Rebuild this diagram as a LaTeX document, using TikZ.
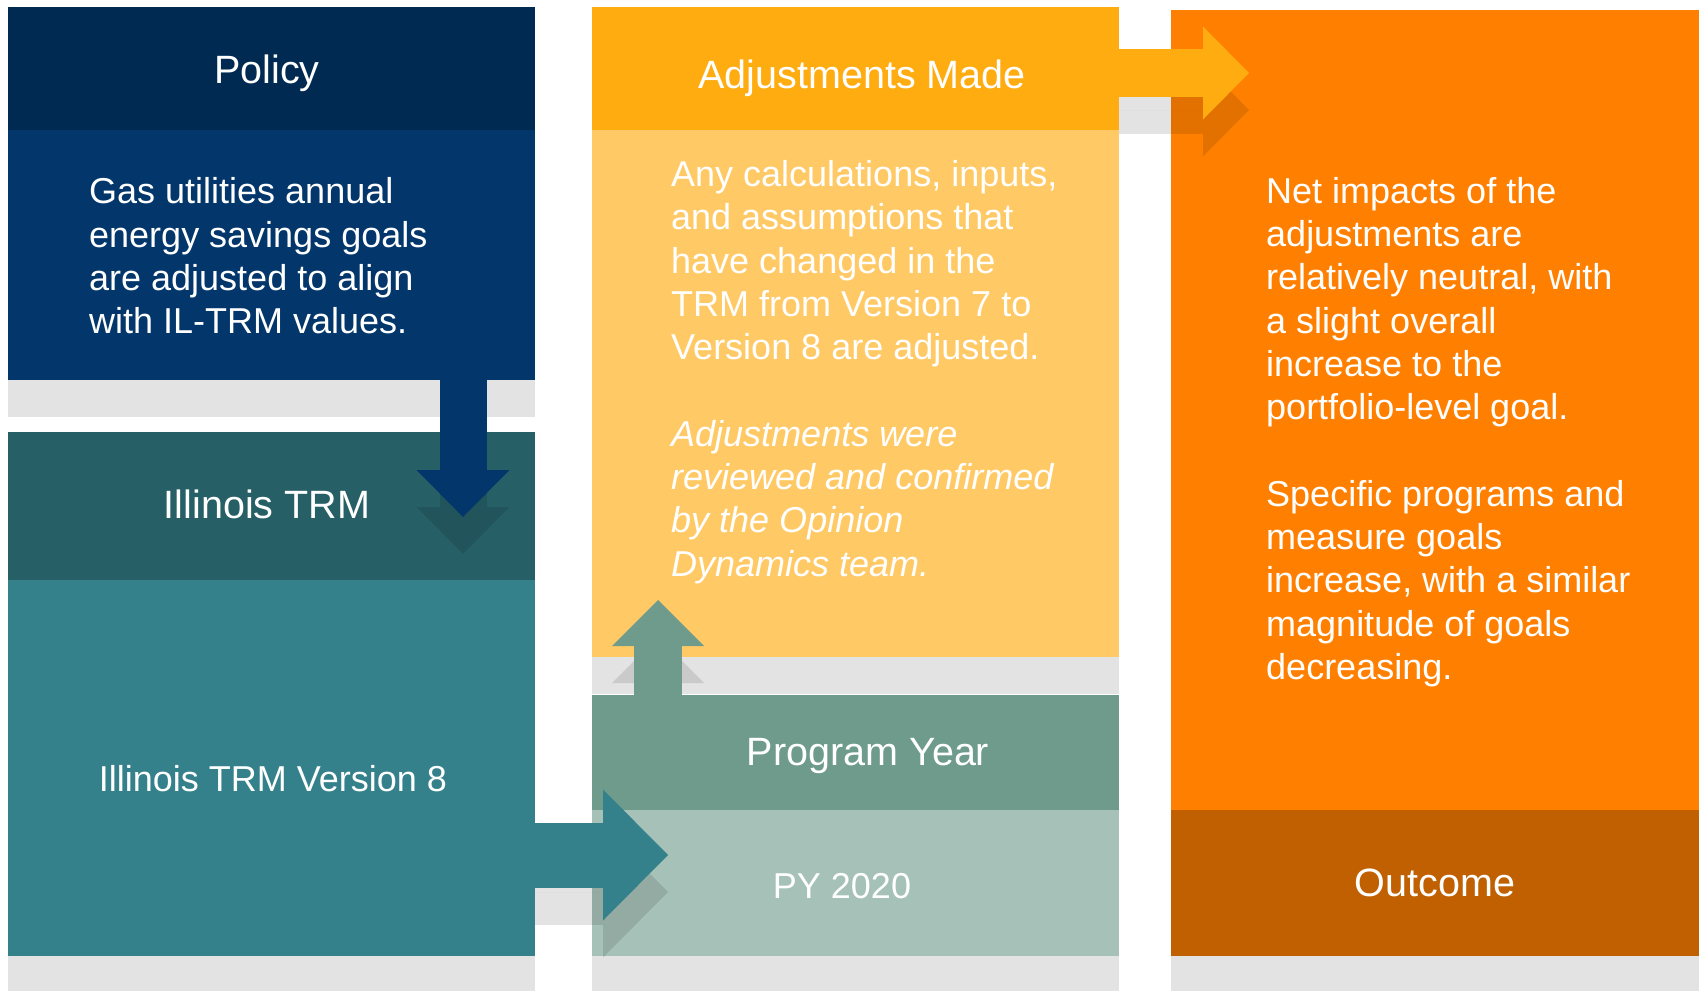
\documentclass[tikz,border=0pt]{standalone}
\usepackage{fontspec}
\setmainfont{Liberation Sans}
\usetikzlibrary{arrows.meta,shadows}

\definecolor{navyhead}{HTML}{002A52}
\definecolor{navybody}{HTML}{03366A}
\definecolor{tealhead}{HTML}{275F67}
\definecolor{tealbody}{HTML}{35818B}
\definecolor{goldhead}{HTML}{FFAC10}
\definecolor{goldbody}{HTML}{FFCA66}
\definecolor{sagehead}{HTML}{6E9B8C}
\definecolor{sagebody}{HTML}{A6C1B8}
\definecolor{orangebody}{HTML}{FF8000}
\definecolor{orangedark}{HTML}{C06000}

\newcommand{\hdfont}{\fontsize{39.5}{47}\selectfont}
\newcommand{\txtfont}{\fontsize{36}{43.3}\selectfont}

\begin{document}
\begin{tikzpicture}[x=1pt, y=-1pt,
        box/.style={rectangle, inner sep=0pt, outer sep=0pt, anchor=north west},
        lifted/.style={drop shadow={shadow xshift=0pt, shadow yshift=-37pt, fill=black, opacity=.11}},
        title/.style={inner sep=0pt, text=white, font=\hdfont},
        label/.style={inner sep=0pt, text=white, font=\txtfont},
        bodytext/.style={anchor=west, inner sep=0pt, align=left, text=white, font=\txtfont},
        bigarrow/.style n args={3}{line width=#1, -{Triangle[length=#2, width=#3, line width=0pt]}},
        arrowshadow/.style={draw=black, fill=black, opacity=.11}
    ]
        \path[fill=white, use as bounding box] (0,0) rectangle (1699,990);

        % Policy column
        \node[box, fill=navyhead, minimum width=527pt, minimum height=123pt] (policyhead) at (8,7) {};
        \node[box, fill=navybody, lifted, minimum width=527pt, minimum height=250pt] (policybody) at (8,130) {};
        \node[title] (policytitle) at (267,73) {Policy};
        \node[bodytext] (policytext) at (89,256) {Gas utilities annual\\energy savings goals\\are adjusted to align\\with IL-TRM values.};
        \node[box, fill=tealhead, minimum width=527pt, minimum height=148pt] (trmhead) at (8,432) {};
        \node[box, fill=tealbody, lifted, minimum width=527pt, minimum height=376pt] (trmbody) at (8,580) {};
        \node[title] (trmtitle) at (267,504) {Illinois TRM};
        \node[label] (trmlabel) at (273,779) {Illinois TRM Version 8};

        % Adjustments column
        \node[box, fill=goldhead, minimum width=527pt, minimum height=123pt] (adjhead) at (592,7) {};
        \node[box, fill=goldbody, lifted, minimum width=527pt, minimum height=527pt] (adjbody) at (592,130) {};
        \node[title] (adjtitle) at (862,78) {Adjustments Made};
        \node[bodytext] (adjtext) at (671,372) {Any calculations, inputs,\\and assumptions that\\have changed in the\\TRM from Version 7 to\\Version 8 are adjusted.\\[43.3pt]
            \itshape Adjustments were\\\itshape reviewed and confirmed\\\itshape by the Opinion\\\itshape Dynamics team.};

        % Outcome column
        \node[box, fill=orangebody, minimum width=528pt, minimum height=800pt] (impactbody) at (1171,10) {};
        \node[bodytext] (impacttext) at (1266,432) {Net impacts of the\\adjustments are\\relatively neutral, with\\a slight overall\\increase to the\\portfolio-level goal.\\[43.3pt]
            Specific programs and\\measure goals\\increase, with a similar\\magnitude of goals\\decreasing.};
        \node[box, fill=orangedark, lifted, minimum width=528pt, minimum height=146pt] (outcome) at (1171,810) {};
        \node[title] (outcometitle) at (1435,883) {Outcome};

        % Program year into adjustments
        \coordinate (uptip) at (658,600);
        \coordinate (progtop) at (658,695);
        \begin{scope}[transform canvas={yshift=-37pt}]
            \draw[bigarrow={48pt}{46pt}{92pt}, arrowshadow, shorten <=37pt] (progtop) -- (uptip);
        \end{scope}
        \draw[bigarrow={48pt}{46pt}{92pt}, sagehead] (progtop) -- (uptip);

        \node[box, fill=sagehead, minimum width=527pt, minimum height=115pt] (proghead) at (592,695) {};
        \node[box, fill=sagebody, lifted, minimum width=527pt, minimum height=146pt] (pybody) at (592,810) {};
        \node[title] (progtitle) at (868,756) {Program Year};
        \node[label] (pylabel) at (842,886) {PY 2020};

        % Block arrows
        \coordinate (downtip) at (463,517);
        \coordinate (righttip) at (1249,73);
        \coordinate (pytip) at (668,855);
        \begin{scope}[transform canvas={yshift=-37pt}]
            \draw[bigarrow={47pt}{47pt}{93pt}, arrowshadow] (policybody.south -| downtip) -- (downtip);
            \draw[bigarrow={47pt}{46pt}{93pt}, arrowshadow] (adjhead.east |- righttip) -- (righttip);
            \draw[bigarrow={65pt}{65pt}{131pt}, arrowshadow] (trmbody.east |- pytip) -- (pytip);
        \end{scope}
        \draw[bigarrow={47pt}{47pt}{93pt}, navybody] (policybody.south -| downtip) -- (downtip);
        \draw[bigarrow={47pt}{46pt}{93pt}, goldhead] (adjhead.east |- righttip) -- (righttip);
        \draw[bigarrow={65pt}{65pt}{131pt}, tealbody] (trmbody.east |- pytip) -- (pytip);
    \end{tikzpicture}
\end{document}
